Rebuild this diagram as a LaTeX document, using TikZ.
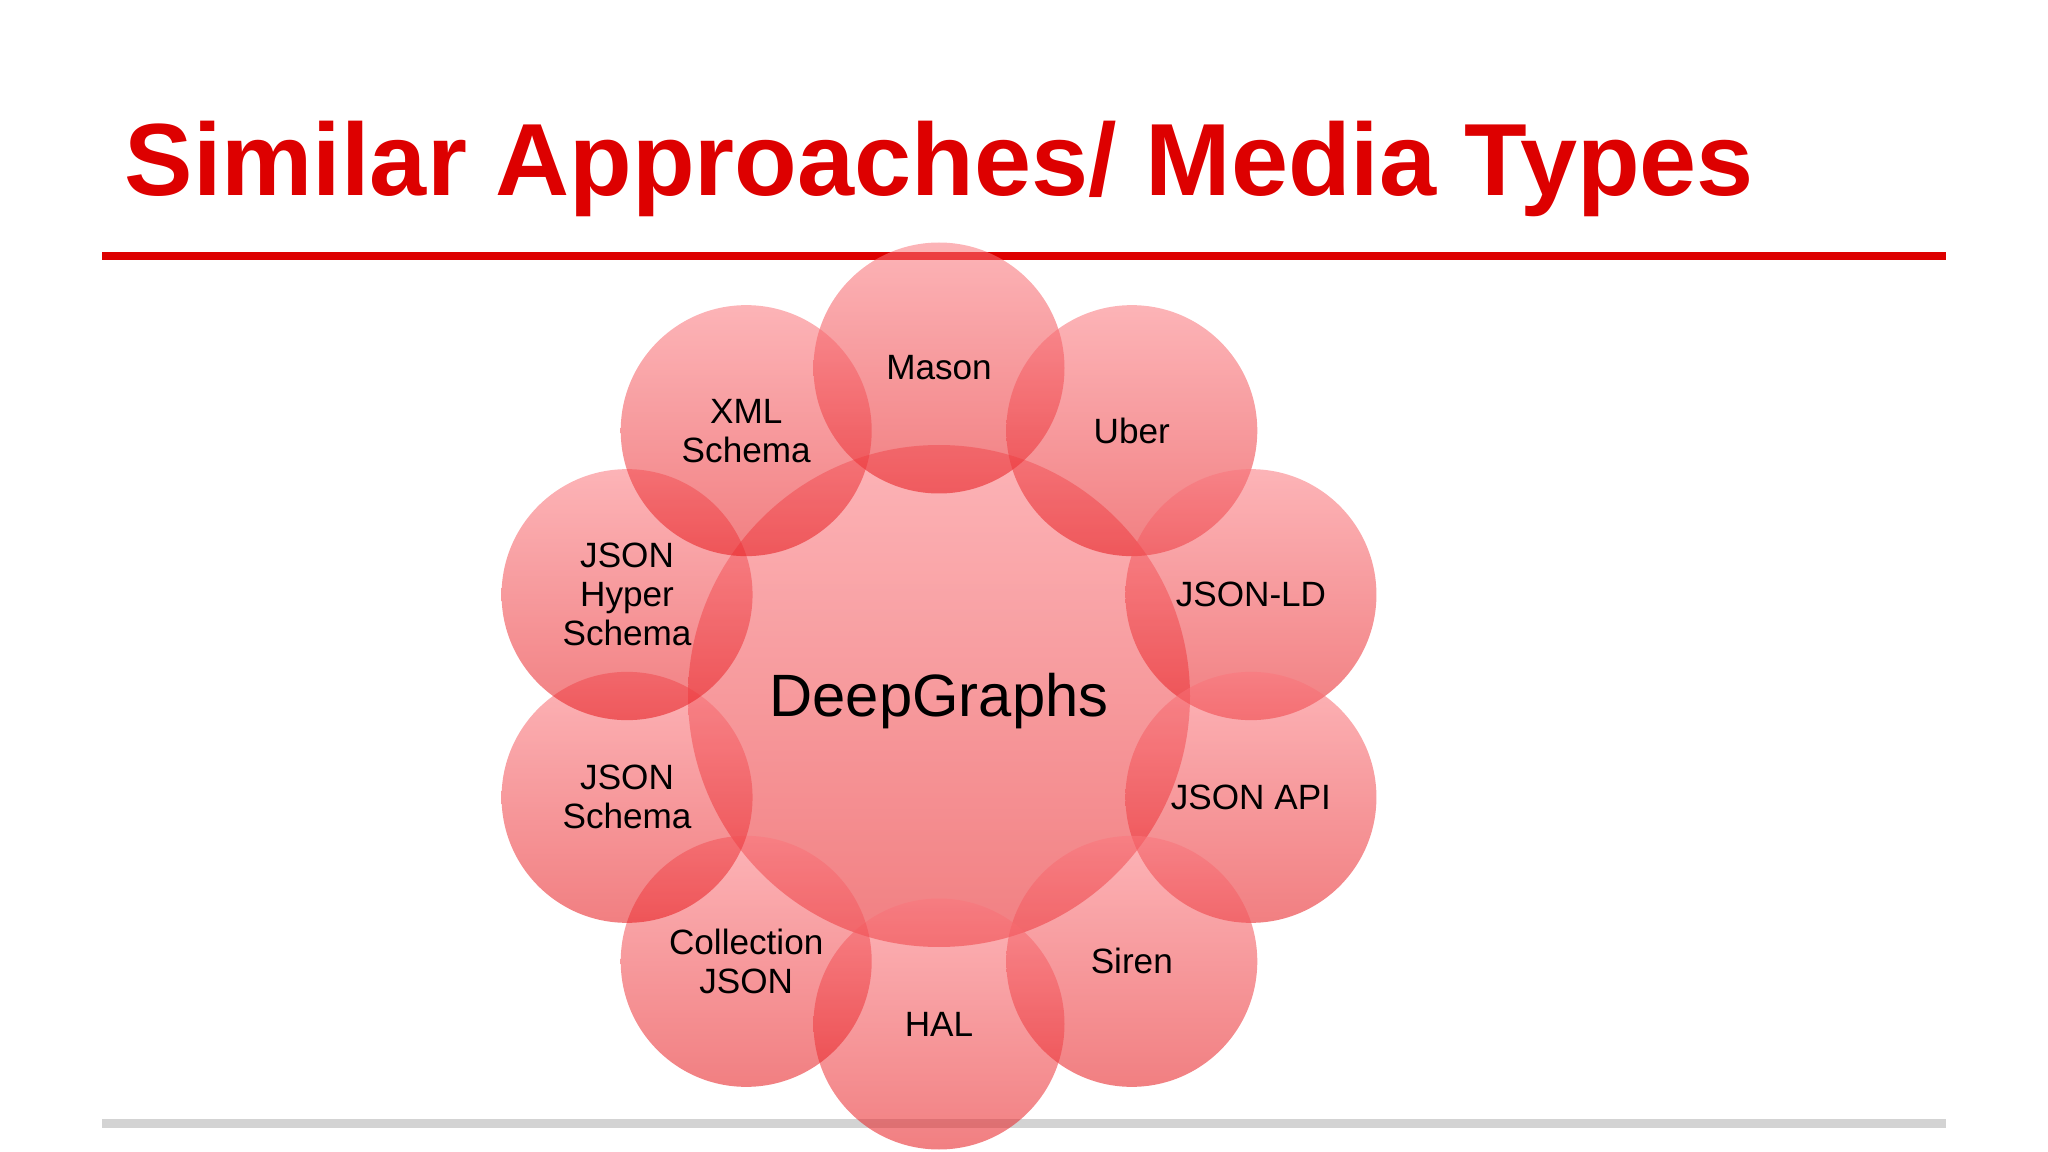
\documentclass[tikz,border=0pt]{standalone}
\usepackage{fontspec}
\setmainfont{Liberation Sans}
\usepackage{xcolor}
\usepackage{tikz}
\usetikzlibrary{positioning}
\definecolor{titlered}{RGB}{221,0,0}
\definecolor{rulegray}{RGB}{211,211,211}
\definecolor{bubtop}{RGB}{250,118,124}
\definecolor{bubbot}{RGB}{230,22,26}

\begin{document}
\begin{tikzpicture}[
  bubble/.style={circle,minimum size=25.1mm,inner sep=0pt,top color=bubtop,
                 bottom color=bubbot,fill opacity=0.55},
  core/.style={bubble,minimum size=50.2mm},
  lbl/.style={align=center,inner sep=0pt,font=\fontsize{10}{11.1}\selectfont},
  rulebar/.style={line width=0.8mm}
]
\useasboundingbox (0,0) rectangle (20.48,-11.52);
\node[anchor=base west,inner sep=0pt,text=titlered,
      font=\fontsize{29.2}{34}\selectfont\bfseries] (title) at (1.24,-1.96)
      {Similar Approaches/ Media Types};
\coordinate (redl) at (1.02,-2.56);
\coordinate (redr) at (19.46,-2.56);
\draw[rulebar,titlered] (redl) -- (redr);
\coordinate (grayl) at (1.02,-11.235);
\coordinate (grayr) at (19.46,-11.235);
\draw[rulebar,rulegray,line width=0.9mm] (grayl) -- (grayr);

% bubbles first, labels on top
\node[core] (hub) at (9.39,-6.96) {};
\foreach \nm/\ang in {mason/90,uber/54,jsonld/18,jsonapi/-18,siren/-54,
                      hal/-90,coljson/-126,jsonschema/-162,hyper/162,xml/126}
  \node[bubble] (\nm) at ([shift={(\ang:3.28)}]hub.center) {};

\node[lbl,font=\fontsize{17}{20}\selectfont] (hub-l) at ([yshift=-0.05cm]hub.center) {DeepGraphs};
\foreach \nm/\txt in {mason/Mason,uber/Uber,jsonld/JSON-LD,jsonapi/JSON API,
                      siren/Siren,hal/HAL,coljson/{Collection\\JSON},
                      jsonschema/{JSON\\Schema},hyper/{JSON\\Hyper\\Schema},
                      xml/{XML\\Schema}}
  \node[lbl] (\nm-l) at (\nm) {\txt};
\end{tikzpicture}
\end{document}
